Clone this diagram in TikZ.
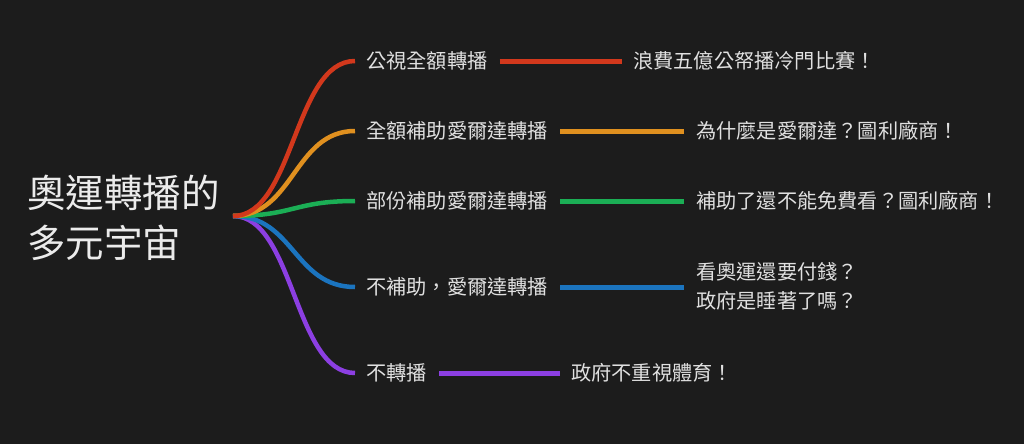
\documentclass[tikz,border=0pt]{standalone}
\usepackage{fontspec}
\setmainfont{Noto Sans CJK TC}
\begin{document}
\begin{tikzpicture}[x=1pt,y=-1pt,
  lbl/.style={anchor=west,inner sep=0pt,text=white!88!black,font=\fontsize{20.2}{24}\selectfont},
  br/.style={line width=4.5pt},
  seg/.style={line width=5pt}]
\definecolor{bg}{HTML}{1C1C1C}
\definecolor{cred}{HTML}{D2381C}
\definecolor{corange}{HTML}{E0901F}
\definecolor{cgreen}{HTML}{1BAE55}
\definecolor{cblue}{HTML}{1B74BF}
\definecolor{cpurple}{HTML}{8C3FE2}
\fill[bg] (0,0) rectangle (1024,444);
\useasboundingbox (0,0) rectangle (1024,444);
\node[anchor=west,inner sep=0pt,align=left,text=white!92!black,font=\fontsize{38.5}{50}\selectfont] (root) at (27,218) {奧運轉播的\\多元宇宙};
\coordinate (o) at (233,216);
% branch ends
\coordinate (a0) at (355,61);
\coordinate (b0) at (355,131);
\coordinate (c0) at (355,201);
\coordinate (d0) at (355,287);
\coordinate (e0) at (355,373);
% labels
\node[lbl] (a1) at (366,61) {公視全額轉播};
\node[lbl] (b1) at (366,131) {全額補助愛爾達轉播};
\node[lbl] (c1) at (366,201) {部份補助愛爾達轉播};
\node[lbl] (d1) at (366,287) {不補助，愛爾達轉播};
\node[lbl] (e1) at (366,373) {不轉播};
\node[lbl] (a2) at (633,61) {浪費五億公帑播冷門比賽！};
\node[lbl] (b2) at (696,131) {為什麼是愛爾達？圖利廠商！};
\node[lbl] (c2) at (696,201) {補助了還不能免費看？圖利廠商！};
\node[lbl,align=left,font=\fontsize{20.2}{29}\selectfont] (d2) at (696,286) {看奧運還要付錢？\\政府是睡著了嗎？};
\node[lbl] (e2) at (571,373) {政府不重視體育！};
% curved branches
\draw[br,cpurple] (o) .. controls (294,216) and (294,373) .. (e0);
\draw[br,cblue] (o) .. controls (294,216) and (294,287) .. (d0);
\draw[br,cgreen] (o) .. controls (294,216) and (294,201) .. (c0);
\draw[br,corange] (o) .. controls (294,216) and (294,131) .. (b0);
\draw[br,cred] (o) .. controls (294,216) and (294,61) .. (a0);
% straight segments
\draw[seg,cred] ([xshift=12pt]a1.east) -- ([xshift=-11pt]a2.west);
\draw[seg,corange] ([xshift=12pt]b1.east) -- ([xshift=-12pt]b2.west);
\draw[seg,cgreen] ([xshift=12pt]c1.east) -- ([xshift=-12pt]c2.west);
\draw[seg,cblue] ([xshift=12pt]d1.east) -- ([xshift=-12pt]d2.west|-d1.east);
\draw[seg,cpurple] ([xshift=12pt]e1.east) -- ([xshift=-11pt]e2.west);
\end{tikzpicture}
\end{document}
